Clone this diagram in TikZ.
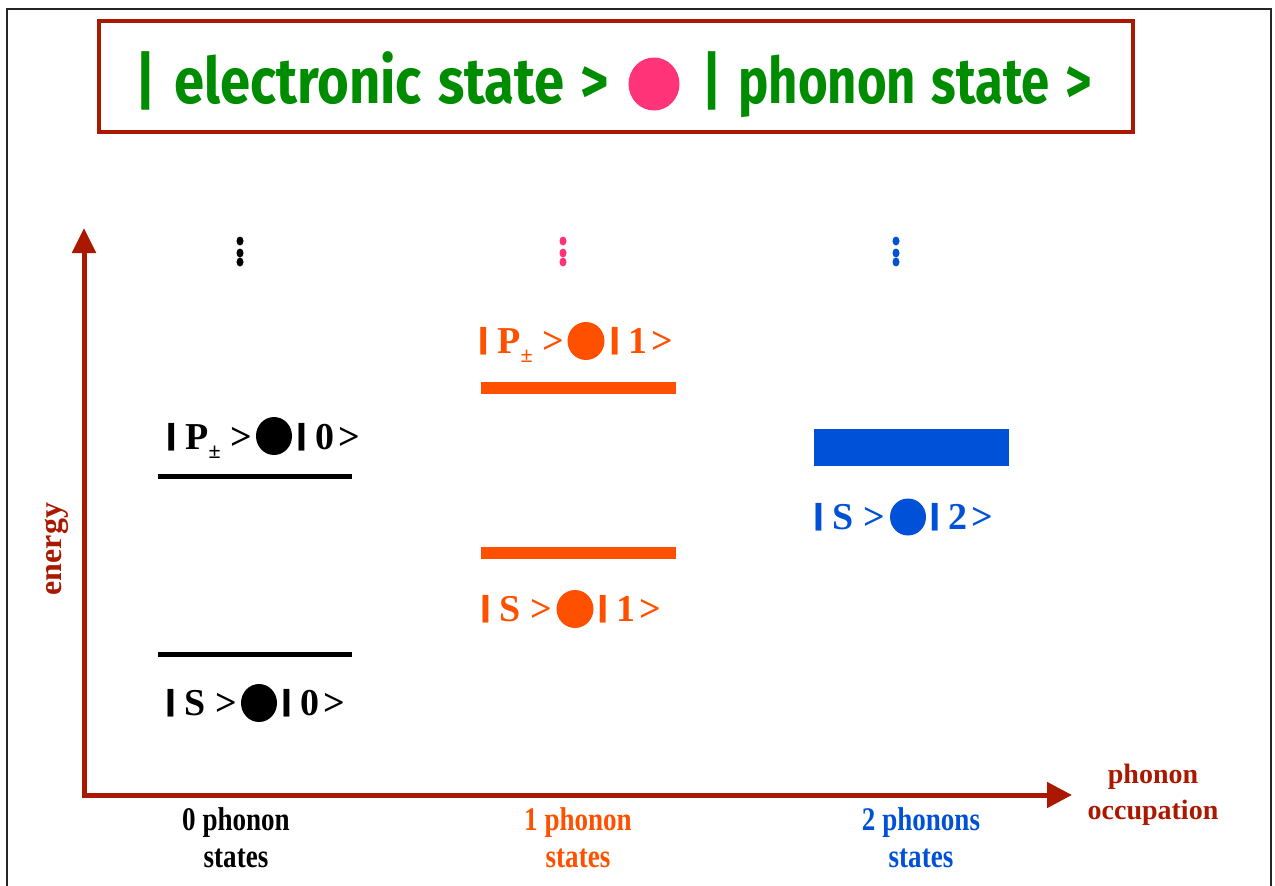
\documentclass[tikz,border=0pt]{standalone}
\usepackage{fontspec}
\usepackage{graphicx}
\setmainfont{Liberation Serif}
\newfontfamily\titlefont{Fira Sans}
\usetikzlibrary{shapes.geometric,arrows.meta}
\definecolor{axred}{HTML}{AA1800}
\definecolor{tgreen}{HTML}{008C00}
\definecolor{tpink}{HTML}{FF3377}
\definecolor{torange}{HTML}{FF5000}
\definecolor{tblue}{HTML}{0050D8}
\newcommand\kbar{\makebox[9pt][c]{\raisebox{5pt}{\scalebox{2.2}[0.8]{|}}}}
\newcommand\pmsub{\raisebox{-9pt}{\fontsize{22}{22}\selectfont ±}}
\tikzset{
  lbl/.style={inner sep=0pt, font=\bfseries\fontsize{38}{40}\selectfont},
  ball/.style={ellipse, inner sep=0pt, draw=none},
  axlbl/.style={text=axred, align=center, font=\bfseries\fontsize{28}{36}\selectfont},
  botlbl/.style={align=center, inner sep=0pt, font=\bfseries\fontsize{33}{37}\selectfont},
  ttl/.style={inner sep=0pt, text=tgreen, font=\titlefont\bfseries\fontsize{64}{70}\selectfont},
  axis/.style={draw=axred, line width=5pt, line join=miter}
}
\begin{document}
\begin{tikzpicture}[x=1pt,y=-1pt]
\useasboundingbox (0,0) rectangle (1275,886);
% outer frame
\draw[line width=2pt, black!85] (7,890) -- (7,9) -- (1271,9) -- (1271,890);
% title
\node[draw=axred, line width=4pt, minimum width=1034pt, minimum height=111pt, inner sep=0pt] (title) at (616,76.5) {};
\node[ttl, anchor=base] (t1) at (372.5,103) {\scalebox{0.85}[1]{|\hspace{6pt} electronic\hspace{4pt} state\hspace{4pt} >}};
\node[ball, fill=tpink, minimum width=51pt, minimum height=53pt] (tb) at (654,84) {};
\node[ttl, anchor=base] (t2) at (897,103) {\scalebox{0.795}[1]{|\hspace{6pt} phonon\hspace{4pt} state\hspace{4pt} >}};
% dots
\foreach \yy in {241,253,262}{
  \fill[black] (240,\yy) ellipse (3.5 and 4.5);
  \fill[tpink] (563,\yy) ellipse (3.5 and 4.5);
  \fill[tblue] (896,\yy) ellipse (3.5 and 4.5);
}
% axes
\coordinate (O) at (84,795);
\coordinate (Ytip) at (84,228);
\coordinate (Xtip) at (1072,795);
\draw[axis, {Triangle[length=25pt,width=23pt]}-{Triangle[length=25pt,width=25pt]}] (Ytip) -- (O) -- (Xtip);
\node[axlbl, rotate=90, font=\bfseries\fontsize{32}{36}\selectfont] (en) at (57,549) {energy};
\node[axlbl] (occ) at (1153,795) {phonon\\occupation};
% levels
\fill[black] (158,473.5) rectangle (352,478.5);
\fill[black] (158,651.5) rectangle (352,656.5);
\fill[torange] (481,382) rectangle (676,394);
\fill[torange] (481,547) rectangle (676,559);
\fill[tblue] (814,429) rectangle (1009,466);
% state labels
\node[ball, fill=black, minimum width=36pt, minimum height=38pt] (b1) at (274,436) {};
\node[lbl, anchor=base east] (l1) at (252,449) {\kbar{} P\pmsub{} >};
\node[lbl, anchor=base west] (r1) at (297,449) {\kbar{} 0\hspace{4pt}>};
\node[ball, fill=black, minimum width=36pt, minimum height=38pt] (b2) at (259,703) {};
\node[lbl, anchor=base east] (l2) at (237,715) {\kbar{} S >};
\node[lbl, anchor=base west] (r2) at (282,715) {\kbar{} 0\hspace{4pt}>};
\node[ball, fill=torange, minimum width=37pt, minimum height=38pt] (b3) at (586,341) {};
\node[lbl, text=torange, anchor=base east] (l3) at (564,353) {\kbar{} P\pmsub{} >};
\node[lbl, text=torange, anchor=base west] (r3) at (610,353) {\kbar{} 1\hspace{4pt}>};
\node[ball, fill=torange, minimum width=37pt, minimum height=38pt] (b4) at (575,609) {};
\node[lbl, text=torange, anchor=base east] (l4) at (552,621) {\kbar{} S >};
\node[lbl, text=torange, anchor=base west] (r4) at (598,621) {\kbar{} 1\hspace{4pt}>};
\node[ball, fill=tblue, minimum width=36pt, minimum height=37pt] (b5) at (908,517) {};
\node[lbl, text=tblue, anchor=base east] (l5) at (885,529) {\kbar{} S >};
\node[lbl, text=tblue, anchor=base west] (r5) at (930,529) {\kbar{} 2\hspace{4pt}>};
% bottom labels
\node[botlbl] (c0) at (236,838) {\scalebox{0.82}[1]{0 phonon}\\\scalebox{0.82}[1]{states}};
\node[botlbl, text=torange] (c1) at (578,838) {\scalebox{0.82}[1]{1 phonon}\\\scalebox{0.82}[1]{states}};
\node[botlbl, text=tblue] (c2) at (921,838) {\scalebox{0.82}[1]{2 phonons}\\\scalebox{0.82}[1]{states}};
\end{tikzpicture}
\end{document}
